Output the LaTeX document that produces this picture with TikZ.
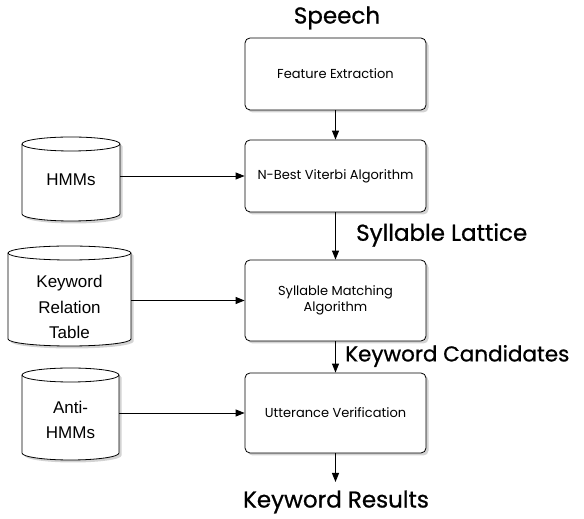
\documentclass[tikz,border=0pt]{standalone}
\usepackage{fontspec}
\setmainfont{Poppins}
\newfontfamily\headfont{Poppins}[FakeBold=0.8]
\newfontfamily\dbfont{Liberation Sans}
\usetikzlibrary{arrows.meta,shadows}

\tikzset{
  proc/.style={draw, rounded corners=5pt, fill=white, line width=0.8pt,
    minimum width=181pt, minimum height=#1, align=center,
    font=\fontsize{13}{16}\selectfont,
    drop shadow={opacity=0.35, shadow xshift=2.5pt, shadow yshift=-2.5pt}},
  proc/.default=72pt,
  dbshape/.style={draw, fill=white, line width=0.8pt,
    drop shadow={opacity=0.35, shadow xshift=2.5pt, shadow yshift=-2.5pt}},
  dbtext/.style={inner sep=0pt, align=center,
    font=\dbfont\fontsize{17}{25.5}\selectfont},
  streamlabel/.style={inner sep=0pt, font=\headfont\fontsize{23}{26}\selectfont},
  flow/.style={-{Triangle[length=9pt,width=7pt]}, line width=0.9pt},
}

% database cylinder: name, centre x, centre y, width, height, text, text offset
\newcommand\dbcyl[7]{%
  \path[dbshape] ({#2-#4/2},{#3+#5/2-7}) -- ({#2-#4/2},{#3-#5/2+7})
    arc[start angle=180, end angle=360, x radius={#4/2*1pt}, y radius=7pt]
    -- ({#2+#4/2},{#3+#5/2-7})
    arc[start angle=0, end angle=180, x radius={#4/2*1pt}, y radius=7pt]
    -- cycle;
  \draw[line width=0.8pt] ({#2-#4/2},{#3+#5/2-7})
    arc[start angle=180, end angle=360, x radius={#4/2*1pt}, y radius=7pt];
  \node[dbtext, minimum width=#4pt, minimum height=#5pt] (#1) at (#2,{#3+#7}) {#6};
}

\begin{document}
\begin{tikzpicture}[x=1pt, y=1pt]
  \useasboundingbox (0,0) rectangle (584,519);

  % processing stages
  \node[proc] (fe) at (335.5,445) {Feature Extraction};
  \node[proc] (nb) at (335.5,343) {N-Best Viterbi Algorithm};
  \node[proc=81pt] (sm) at (335.5,218.5) {Syllable Matching\\Algorithm};
  \node[proc=80pt] (uv) at (335.5,106) {Utterance Verification};

  % stream labels
  \node[streamlabel] (speech) at (337,501) {Speech};
  \node[streamlabel, anchor=west] (lattice) at (356,284) {Syllable Lattice};
  \node[streamlabel, anchor=west, font=\headfont\fontsize{21.5}{26}\selectfont]
    (cand) at (345,163) {Keyword Candidates};
  \node[streamlabel] (result) at (336,17) {Keyword Results};
  \coordinate (out) at (335.5,37);

  % knowledge sources
  \dbcyl{hmm}{71}{340}{98}{84}{HMMs}{-1}
  \dbcyl{krt}{69.5}{223}{123}{100}{Keyword\\Relation\\Table}{-11}
  \dbcyl{anti}{70.5}{105}{97}{92}{Anti-\\HMMs}{-6}

  % main flow
  \draw[flow] (fe) -- (nb);
  \draw[flow] (nb) -- (sm);
  \draw[flow] (sm) -- (uv);
  \draw[flow] (uv) -- (out);

  % side inputs
  \draw[flow] (nb.west -| hmm.east) -- (nb.west);
  \draw[flow] (sm.west -| krt.east) -- (sm.west);
  \draw[flow] (uv.west -| anti.east) -- (uv.west);
\end{tikzpicture}
\end{document}
